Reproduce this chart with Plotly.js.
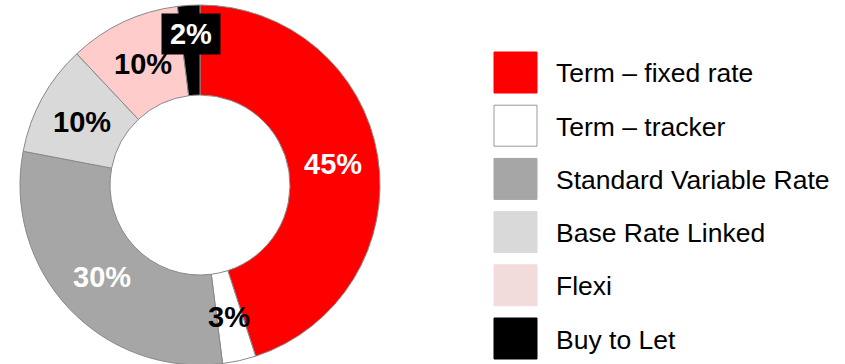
<!DOCTYPE html>
<html><head><meta charset="utf-8">
<script src="https://cdn.plot.ly/plotly-3.0.1.min.js"></script>
<style>html,body{margin:0;padding:0;overflow:hidden;background:#fff}#chart{width:845px;height:370px}</style>
</head><body><div id="chart"></div>
<script>
// Data
const categories = ["Term \u2013 fixed rate", "Term \u2013 tracker", "Standard Variable Rate", "Base Rate Linked", "Flexi", "Buy to Let"];
const values = [45, 3, 30, 10, 10, 2];
const sliceColors = ["#FF0000", "#FFFFFF", "#A6A6A6", "#D9D9D9", "#FFCCCC", "#000000"];
const legendColors = ["#FF0000", "#FFFFFF", "#A6A6A6", "#D9D9D9", "#F2DCDB", "#000000"];
const labelColors = ["#FFFFFF", "#000000", "#FFFFFF", "#000000", "#000000", "#FFFFFF"];

// Layout geometry (pixels)
const W = 845, H = 370;
const cx = 200, cy = 185, R = 180, hole = 0.5;
const labelR = [135, 135, 135, 135, 135, 151];
const labelDy = [0, 0, 0, 2, 1, 0];
const px = x => x / W;
const py = y => (H - y) / H;
const FONT = "Arial, 'Liberation Sans', sans-serif";

const total = values.reduce((a, b) => a + b, 0);
const annotations = [];
let cum = 0;
values.forEach((v, i) => {
  const mid = (cum + v / 2) / total * 2 * Math.PI;
  cum += v;
  const x = cx + labelR[i] * Math.sin(mid);
  const y = cy - labelR[i] * Math.cos(mid) + labelDy[i];
  const pct = Math.round(v / total * 100) + "%";
  const a = {
    xref: "paper", yref: "paper", x: px(x), y: py(y), xanchor: "center", yanchor: "middle",
    text: "<b>" + pct + "</b>", showarrow: false,
    font: {family: FONT, size: 29, color: labelColors[i]}
  };
  if (i === values.length - 1) { a.bgcolor = "#000000"; a.borderpad = 2; a.width = 54; a.height = 36; }
  annotations.push(a);
});

// Manual legend
const shapes = [];
const legX0 = 494, legW = 43, legH = 41, legY0 = 52, legStep = 53.2, legTextX = 554;
categories.forEach((c, i) => {
  const y0 = legY0 + i * legStep;
  shapes.push({
    type: "rect", xref: "paper", yref: "paper",
    x0: px(legX0), x1: px(legX0 + legW), y0: py(y0 + legH), y1: py(y0),
    fillcolor: legendColors[i],
    line: {color: legendColors[i] === "#FFFFFF" ? "#999999" : legendColors[i], width: 1}
  });
  annotations.push({
    xref: "paper", yref: "paper", x: px(legTextX), y: py(y0 + legH / 2 + 1),
    xanchor: "left", yanchor: "middle", text: c, showarrow: false,
    font: {family: FONT, size: 26.5, color: "#000000"}
  });
});

const trace = {
  type: "pie", labels: categories, values: values, hole: hole,
  sort: false, direction: "clockwise", rotation: 0,
  marker: {colors: sliceColors, line: {color: "#888888", width: 1}},
  textinfo: "none", hoverinfo: "none", showlegend: false,
  domain: {x: [px(cx - R), px(cx + R)], y: [py(cy + R), py(cy - R)]}
};

Plotly.newPlot("chart", [trace], {
  width: W, height: H, margin: {l: 0, r: 0, t: 0, b: 0},
  paper_bgcolor: "#FFFFFF", plot_bgcolor: "#FFFFFF",
  showlegend: false, annotations: annotations, shapes: shapes
}, {displayModeBar: false, staticPlot: true});
</script></body></html>
